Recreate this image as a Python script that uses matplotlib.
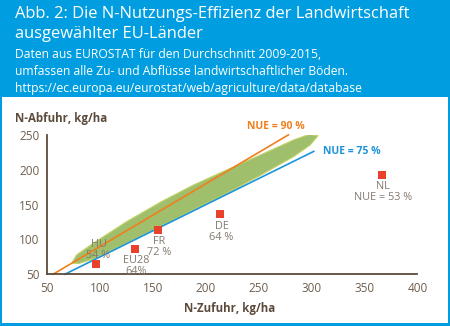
import matplotlib.pyplot as plt
from matplotlib.patches import Rectangle, Polygon
import numpy as np

plt.rcParams['font.family'] = ['Open Sans', 'DejaVu Sans']

# Laender: N-Zufuhr, N-Abfuhr (kg/ha) und Beschriftung
countries = ['HU', 'EU28', 'FR', 'DE', 'NL']
n_input = [96, 133, 154.5, 213.5, 366]
n_output = [64.5, 86, 113.5, 136, 192.5]
nue_labels = ['54 %', '64%', '72 %', '64 %', 'NUE = 53 %']
label_above = [True, False, False, False, False]

# NUE-Linien (x-Bereich)
nue90_x = [55.6, 278]
nue75_x = [66.7, 302]

# gruene Flaeche: Ober- und Unterkante (kg/ha)
band_upper_x = [74, 78, 94, 125, 157, 188, 220, 251, 283, 298, 306]
band_upper_y = [68, 78, 95, 125.5, 153.5, 178, 200, 221, 243, 251, 249]
band_lower_x = [298.5, 283, 251, 220, 188, 157, 125, 94, 80, 74]
band_lower_y = [235.5, 219, 191.5, 166.5, 142.5, 118.5, 94.5, 72, 65.5, 66]

xticks = [50, 100, 150, 200, 250, 300, 350, 400]
yticks = [50, 100, 150, 200, 250]

blue_bg = '#009ee0'
brown = '#5c4b3b'
tick_col = '#6e5e4e'
label_col = '#857a70'
orange = '#f07f1e'
lblue = '#1e93da'
red = '#e8412c'

fig = plt.figure(figsize=(4.5, 3.26), dpi=100, facecolor=blue_bg)
W, H = 450, 326

# weisser Kasten
fig.patches.append(Rectangle((2 / W, 1 - 323 / H), 446 / W, (323 - 97) / H,
                             transform=fig.transFigure, facecolor='white',
                             edgecolor='none', zorder=-10))

# Kopfzeilen
fig.text(15 / W, 1 - 14 / H, 'Abb. 2: Die N-Nutzungs-Effizienz der Landwirtschaft',
         color='white', fontsize=11.9, va='center', ha='left')
fig.text(15 / W, 1 - 34.5 / H, 'ausgewählter EU-Länder',
         color='white', fontsize=11.9, va='center', ha='left')
sub = ['Daten aus EUROSTAT für den Durchschnitt 2009-2015,',
       'umfassen alle Zu- und Abflüsse landwirtschaftlicher Böden.',
       'https://ec.europa.eu/eurostat/web/agriculture/data/database']
for i, s in enumerate(sub):
    fig.text(15 / W, 1 - (54 + 17.3 * i) / H, s, color='white',
             fontsize=8.7, va='center', ha='left')

ax = fig.add_axes([47.1 / W, 1 - 274.3 / H, (417.5 - 47.1) / W, (274.3 - 135) / H])
ax.set_facecolor('none')
ax.set_xlim(50, 400)
ax.set_ylim(50, 250)
ax.set_xticks(xticks)
ax.set_yticks(yticks)
ax.tick_params(length=0, labelsize=8.5, colors=tick_col, pad=5.5)
for s in ['top', 'right']:
    ax.spines[s].set_visible(False)
for s in ['left', 'bottom']:
    ax.spines[s].set_color(brown)
    ax.spines[s].set_linewidth(1.3)

# gruene Flaeche
outline = list(zip(band_upper_x, band_upper_y)) + list(zip(band_lower_x, band_lower_y))
ax.add_patch(Polygon(outline, closed=True, facecolor='#9fbf6c',
                     edgecolor='#c4d46a', linewidth=0.8, zorder=1,
                     joinstyle='round'))

# NUE-Linien
x90 = np.array(nue90_x)
x75 = np.array(nue75_x)
ax.plot(x90, 0.90 * x90, color=orange, lw=1.2, zorder=2, clip_on=False)
ax.plot(x75, 0.75 * x75, color=lblue, lw=1.2, zorder=2, clip_on=False)
ax.text(238.5, 262, 'NUE = 90 %', color=orange, fontsize=7.5, fontweight='bold',
        ha='left', va='center', clip_on=False)
ax.text(310.5, 226, 'NUE = 75 %', color=lblue, fontsize=7.5, fontweight='bold',
        ha='left', va='center')

# Laenderpunkte
ax.scatter(n_input, n_output, marker='s', s=30, color=red, zorder=3, linewidths=0)
for name, x, y, lab, up in zip(countries, n_input, n_output, nue_labels, label_above):
    txt = name + '\n' + lab
    if up:
        ax.annotate(txt, (x, y), xytext=(2, 2.5), textcoords='offset points',
                    ha='center', va='bottom', fontsize=7.8, color=label_col,
                    linespacing=1.0, zorder=4)
    else:
        ax.annotate(txt, (x, y), xytext=(1, -4.5), textcoords='offset points',
                    ha='center', va='top', fontsize=7.8, color=label_col,
                    linespacing=1.0, zorder=4)

fig.text(15 / W, 1 - 118.5 / H, 'N-Abfuhr, kg/ha', color=brown, fontsize=8.3,
         fontweight='bold', ha='left', va='center')
fig.text(230 / W, 1 - 308.5 / H, 'N-Zufuhr, kg/ha', color=brown, fontsize=8.3,
         fontweight='bold', ha='center', va='center')

fig.savefig('out.png', dpi=100, facecolor=blue_bg)
